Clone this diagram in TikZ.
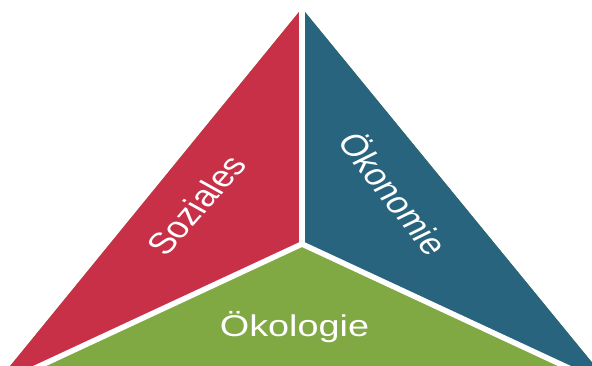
\documentclass[tikz,border=0pt]{standalone}
\usepackage{fontspec}
\setmainfont{Liberation Sans}
\definecolor{sozred}{HTML}{C83048}
\definecolor{okoblue}{HTML}{28647E}
\definecolor{ecogreen}{HTML}{80A843}
\begin{document}
\begin{tikzpicture}[x=1pt,y=-1pt,
  sep/.style={draw=white,line width=5.5pt},
  lbl/.style={text=white,font=\fontsize{30}{30}\selectfont,inner sep=0pt}]
\useasboundingbox (0,0) rectangle (592,366);
\clip (0,0) rectangle (592,366);
\coordinate (A) at (302,8.3);
\coordinate (C) at (302,244);
\coordinate (L) at (-7.9,388.1);
\coordinate (R) at (613.7,388.9);
\fill[ecogreen] (A) -- (L) -- (R) -- cycle;
\fill[sozred] (A) -- (C) -- (L) -- cycle;
\fill[okoblue] (A) -- (R) -- (C) -- cycle;
\draw[sep] (A) -- (C);
\draw[sep] (C) -- (L);
\draw[sep] (C) -- (R);
\begin{scope}[shift={(294.5,336)},xscale=1.26]
  \node[lbl,anchor=base,transform shape] (oeko) at (0,0) {Ökologie};
\end{scope}
\begin{scope}[shift={(196,205)},xscale=1.26]
  \node[lbl,rotate=55,transform shape] (soz) at (0,0) {Soziales};
\end{scope}
\begin{scope}[shift={(395,193)},xscale=1.26]
  \node[lbl,rotate=-58,transform shape] (oekon) at (0,0) {Ökonomie};
\end{scope}
\end{tikzpicture}
\end{document}
